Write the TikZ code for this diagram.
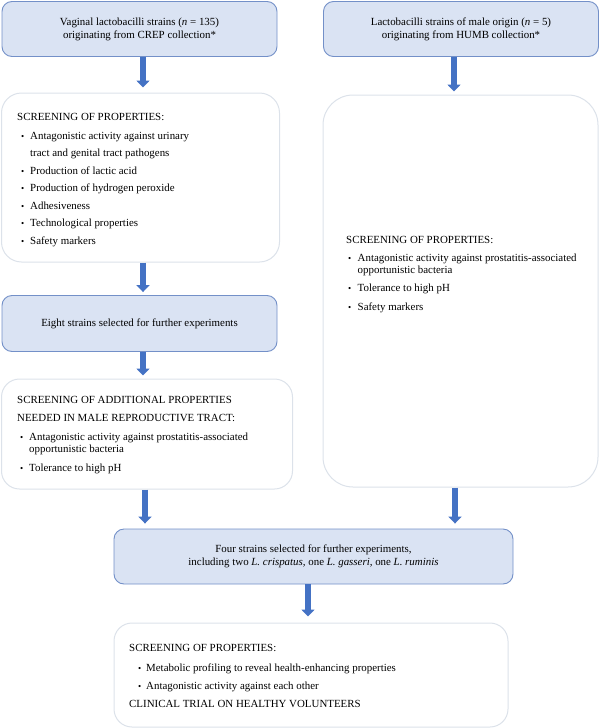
\documentclass[tikz,border=0pt]{standalone}
\usepackage{fontspec}
\setmainfont{Liberation Serif}
\usetikzlibrary{arrows.meta}
\definecolor{bfill}{HTML}{DAE3F3}
\definecolor{bdraw}{HTML}{7390C8}
\definecolor{wdraw}{HTML}{DCE2EA}
\definecolor{arrc}{HTML}{4472C4}
\newcommand{\bu}[2]{\makebox[#2][l]{\hspace{#1}{\small\textbullet}}}
\newcommand{\ind}[1]{\hspace*{#1}}
\begin{document}
\begin{tikzpicture}[x=1pt,y=-1pt,
  bluebox/.style={draw=bdraw, fill=bfill, rounded corners=10pt, line width=0.9pt,
    align=center, inner sep=0pt, font=\fontsize{10.9}{13}\selectfont},
  whitebox/.style={draw=wdraw, fill=white, line width=1pt, inner sep=0pt},
  txt/.style={align=left, inner sep=0pt, anchor=north west, font=\fontsize{10.9}{12}\selectfont},
  arr/.style={draw=arrc, line width=5.5pt, -{Triangle[width=13pt,length=7pt]}}
]
\useasboundingbox (0,0) rectangle (600,728);

% blue boxes
\node[bluebox, minimum width=275pt, minimum height=55pt] (b1) at (139.5,29)
  {Vaginal lactobacilli strains (\textit{n} = 135)\\originating from CREP collection*};
\node[bluebox, minimum width=275pt, minimum height=55pt] (b2) at (461,29)
  {Lactobacilli strains of male origin (\textit{n} = 5)\\originating from HUMB collection*};
\node[bluebox, minimum width=275pt, minimum height=56pt] (b4) at (139.5,323.5)
  {Eight strains selected for further experiments};
\node[bluebox, minimum width=399pt, minimum height=55pt] (b6) at (313.5,556.5)
  {Four strains selected for further experiments,\\including two \textit{L. crispatus,} one \textit{L. gasseri,} one \textit{L. ruminis}};

% white boxes
\node[whitebox, rounded corners=20pt, minimum width=278pt, minimum height=169pt] (b3) at (140.5,177.5) {};
\node[whitebox, rounded corners=30pt, minimum width=275pt, minimum height=392pt] (bR) at (460.5,291) {};
\node[whitebox, rounded corners=18pt, minimum width=291pt, minimum height=110pt] (b5) at (147,434) {};
\node[whitebox, rounded corners=18pt, minimum width=394pt, minimum height=104pt] (b7) at (311,675) {};

% texts in white boxes
\node[txt] (t3) at (17,113) {SCREENING OF PROPERTIES:\\[7pt]
\bu{4pt}{13pt}Antagonistic activity against urinary\\[5.5pt]
\ind{13pt}tract and genital tract pathogens\\[5.5pt]
\bu{4pt}{13pt}Production of lactic acid\\[5.5pt]
\bu{4pt}{13pt}Production of hydrogen peroxide\\[5.5pt]
\bu{4pt}{13pt}Adhesiveness\\[5.5pt]
\bu{4pt}{13pt}Technological properties\\[5.5pt]
\bu{4pt}{13pt}Safety markers};

\node[txt] (tR) at (346,236) {SCREENING OF PROPERTIES:\\[6pt]
\bu{2pt}{11.5pt}Antagonistic activity against prostatitis-associated\\
\ind{11.5pt}opportunistic bacteria\\[6pt]
\bu{2pt}{11.5pt}Tolerance to high pH\\[7pt]
\bu{2pt}{11.5pt}Safety markers};

\node[txt] (t5) at (17,396) {SCREENING OF ADDITIONAL PROPERTIES\\[6pt]
NEEDED IN MALE REPRODUCTIVE TRACT:\\[7pt]
\bu{3pt}{12pt}Antagonistic activity against prostatitis-associated\\
\ind{12pt}opportunistic bacteria\\[7.5pt]
\bu{3pt}{12pt}Tolerance to high pH};

\node[txt] (t7) at (129,644) {SCREENING OF PROPERTIES:\\[8pt]
\bu{9pt}{17pt}Metabolic profiling to reveal health-enhancing properties\\[6pt]
\bu{9pt}{17pt}Antagonistic activity against each other\\[6pt]
CLINICAL TRIAL ON HEALTHY VOLUNTEERS};

% arrows
\draw[arr, shorten >=5pt] ([xshift=3.5pt]b1.south) -- ([xshift=3.5pt]b1.south |- b3.north);
\draw[arr, shorten >=3pt] ([xshift=-7pt]b2.south) -- ([xshift=-7pt]b2.south |- bR.north);
\draw[arr, shorten >=3pt] ([xshift=2.5pt]b3.south) -- ([xshift=2.5pt]b3.south |- b4.north);
\draw[arr, shorten >=3pt] ([xshift=3.5pt]b4.south) -- ([xshift=3.5pt]b4.south |- b5.north);
\draw[arr, shorten >=5pt] ([xshift=-2pt]b5.south) -- ([xshift=-2pt]b5.south |- b6.north);
\draw[arr, shorten >=5pt] ([xshift=-5.5pt]bR.south) -- ([xshift=-5.5pt]bR.south |- b6.north);
\draw[arr, shorten >=6pt] ([xshift=-5.5pt]b6.south) -- ([xshift=-5.5pt]b6.south |- b7.north);
\end{tikzpicture}
\end{document}
